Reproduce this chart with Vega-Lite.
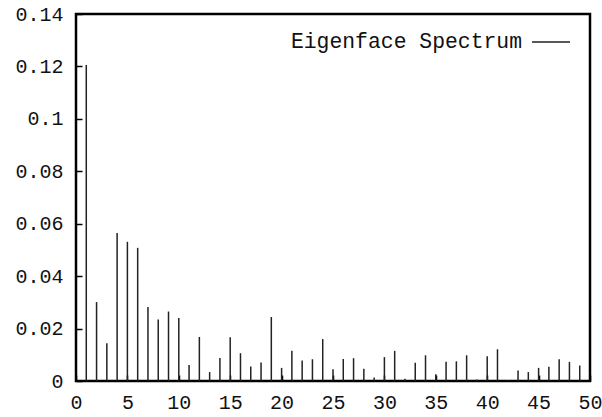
{
  "$schema": "https://vega.github.io/schema/vega-lite/v6.json",
  "width": 514,
  "height": 367,
  "padding": {"left": 0, "top": 4, "right": 0, "bottom": 0},
  "config": {
    "view": {"stroke": "black", "strokeWidth": 2.5, "strokeOpacity": 1},
    "axis": {"grid": false, "domain": false, "labelFont": "Liberation Mono", "labelColor": "#111"}
  },
  "data": {"values": [
    {"x": 1, "v": 0.1205}, {"x": 2, "v": 0.0301}, {"x": 3, "v": 0.0144}, {"x": 4, "v": 0.0565},
    {"x": 5, "v": 0.0531}, {"x": 6, "v": 0.0508}, {"x": 7, "v": 0.0282}, {"x": 8, "v": 0.0235},
    {"x": 9, "v": 0.0265}, {"x": 10, "v": 0.024}, {"x": 11, "v": 0.0061}, {"x": 12, "v": 0.0168},
    {"x": 13, "v": 0.0034}, {"x": 14, "v": 0.0088}, {"x": 15, "v": 0.0167}, {"x": 16, "v": 0.0106},
    {"x": 17, "v": 0.0055}, {"x": 18, "v": 0.0071}, {"x": 19, "v": 0.0244}, {"x": 20, "v": 0.005},
    {"x": 21, "v": 0.0115}, {"x": 22, "v": 0.0078}, {"x": 23, "v": 0.0083}, {"x": 24, "v": 0.016},
    {"x": 25, "v": 0.0045}, {"x": 26, "v": 0.0084}, {"x": 27, "v": 0.0087}, {"x": 28, "v": 0.0047},
    {"x": 29, "v": 0.0013}, {"x": 30, "v": 0.0091}, {"x": 31, "v": 0.0115}, {"x": 32, "v": 0.0009},
    {"x": 33, "v": 0.007}, {"x": 34, "v": 0.0098}, {"x": 35, "v": 0.0026}, {"x": 36, "v": 0.0073},
    {"x": 37, "v": 0.0075}, {"x": 38, "v": 0.0098}, {"x": 39, "v": 0.0006}, {"x": 40, "v": 0.0094},
    {"x": 41, "v": 0.0121}, {"x": 42, "v": 0.0003}, {"x": 43, "v": 0.004}, {"x": 44, "v": 0.0034},
    {"x": 45, "v": 0.005}, {"x": 46, "v": 0.0054}, {"x": 47, "v": 0.0083}, {"x": 48, "v": 0.0073},
    {"x": 49, "v": 0.0059}
  ]},
  "mark": {"type": "rule", "strokeWidth": 1.5, "color": "#222"},
  "encoding": {
    "x": {"field": "x", "type": "quantitative", "scale": {"domain": [0, 50], "nice": false, "zero": false},
          "axis": {"orient": "bottom", "title": null, "values": [0,5,10,15,20,25,30,35,40,45,50], "ticks": true, "tickColor": "black", "tickWidth": 1.5, "tickSize": -6, "labelPadding": 17, "labelFontSize": 20, "labelFlush": false}},
    "y": {"field": "v", "type": "quantitative", "scale": {"domain": [0, 0.14], "nice": false},
          "axis": {"orient": "left", "title": null, "values": [0,0.02,0.04,0.06,0.08,0.1,0.12,0.14], "format": "~g", "ticks": true, "tickColor": "black", "tickWidth": 1.5, "tickSize": -6, "labelPadding": 19, "labelFontSize": 20, "labelFlush": false, "minExtent": 76, "maxExtent": 76}},
    "y2": {"datum": 0},
    "color": {"datum": "Eigenface Spectrum", "type": "nominal", "scale": {"range": ["#222"]},
              "legend": {"title": null, "orient": "none", "legendX": 455, "legendY": 8, "padding": 0, "symbolType": "stroke", "symbolSize": 1444, "symbolStrokeWidth": 1.5, "labelLimit": 500,
                         "labelFont": "Liberation Mono", "labelFontSize": 21.4, "labelColor": "#111", "labelAlign": "right", "labelOffset": -49}}
  }
}
